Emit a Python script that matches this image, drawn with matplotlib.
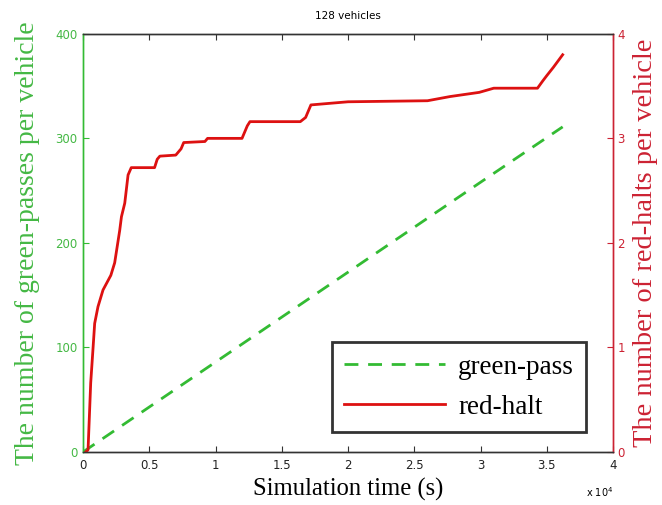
import matplotlib
matplotlib.use("Agg")
import matplotlib.pyplot as plt

# Simulation time (x 1e4 s) and per-vehicle counters
green_time = [0.0, 0.5, 1.0, 1.5, 2.0, 2.5, 3.0, 3.62]
green_pass = [0, 43, 86, 129, 172, 215, 258, 311]

red_time = [0.02, 0.038, 0.058, 0.075, 0.088, 0.113, 0.151, 0.21, 0.239, 0.277,
            0.29, 0.315, 0.34, 0.364, 0.54, 0.56, 0.58, 0.70, 0.74, 0.76,
            0.92, 0.94, 1.20, 1.24, 1.26, 1.64, 1.68, 1.72, 2.0, 2.6, 2.77,
            2.99, 3.1, 3.43, 3.47, 3.5, 3.55, 3.62]
red_halt = [0.0, 0.02, 0.66, 0.98, 1.23, 1.39, 1.55, 1.69, 1.81, 2.12,
            2.25, 2.38, 2.65, 2.72, 2.72, 2.8, 2.83, 2.84, 2.9, 2.96,
            2.97, 3.0, 3.0, 3.12, 3.16, 3.16, 3.2, 3.32, 3.35, 3.36, 3.4,
            3.44, 3.48, 3.48, 3.55, 3.6, 3.68, 3.8]

x_ticks = [0, 0.5, 1, 1.5, 2, 2.5, 3, 3.5, 4]
x_ticklabels = ["0", "0.5", "1", "1.5", "2", "2.5", "3", "3.5", "4"]
left_ticks = [0, 100, 200, 300, 400]
right_ticks = [0, 1, 2, 3, 4]

GREEN = "#33bb33"
GREEN_TXT = "#44b844"
RED = "#dd1111"
RED_TXT = "#cc2233"

fig = plt.figure(figsize=(6.62, 5.05), dpi=100)
ax = fig.add_axes([0.1254, 0.105, 0.8006, 0.828])
ax2 = ax.twinx()

ax.plot(green_time, green_pass, color=GREEN, lw=2, dashes=(5, 3.5), label="green-pass")
ax2.plot(red_time, red_halt, color=RED, lw=2, label="red-halt")

ax.set_xlim(0, 4)
ax.set_ylim(0, 400)
ax2.set_ylim(0, 4)
ax.set_xticks(x_ticks)
ax.set_xticklabels(x_ticklabels)
ax.set_yticks(left_ticks)
ax2.set_yticks(right_ticks)

for lab in ax.get_xticklabels():
    lab.set_fontsize(8.5)
    lab.set_color("#222222")
for lab in ax.get_yticklabels():
    lab.set_fontsize(8.5)
    lab.set_color(GREEN_TXT)
for lab in ax2.get_yticklabels():
    lab.set_fontsize(8.5)
    lab.set_color(RED_TXT)

ax.tick_params(axis="x", direction="in", top=True, length=4, color="#333333", pad=5)
ax.tick_params(axis="y", direction="in", length=4, color=GREEN, pad=4)
ax2.tick_params(axis="y", direction="in", length=4, color=RED_TXT, pad=3)

for a in (ax, ax2):
    a.spines["top"].set_color("#333333")
    a.spines["bottom"].set_color("#333333")
    a.spines["left"].set_color(GREEN)
    a.spines["right"].set_color(RED_TXT)
    for s in a.spines.values():
        s.set_linewidth(1.0)

ax.set_xlabel("Simulation time (s)", family="Liberation Serif", size=17.7, labelpad=4)
ax.set_ylabel("The number of green-passes per vehicle", family="Liberation Serif",
              size=20, color=GREEN_TXT, labelpad=11)
ax2.set_ylabel("The number of red-halts per vehicle", family="Liberation Serif",
               size=20.5, color=RED_TXT, labelpad=6)
ax.set_title("128 vehicles", size=7.5, pad=11)
ax.text(1.0, -0.095, r"x 10$^4$", transform=ax.transAxes, ha="right", va="center", size=7)

h1, l1 = ax.get_legend_handles_labels()
h2, l2 = ax2.get_legend_handles_labels()
leg = ax2.legend(h1 + h2, l1 + l2, loc="lower right", bbox_to_anchor=(0.975, 0.016),
                 prop=dict(family="Liberation Serif", size=19.5), frameon=True,
                 fancybox=False, handlelength=3.7, borderpad=0.45, labelspacing=0.55,
                 handletextpad=0.5)
leg.get_frame().set_edgecolor("black")
leg.get_frame().set_linewidth(2)

fig.savefig("out.png", dpi=100)
